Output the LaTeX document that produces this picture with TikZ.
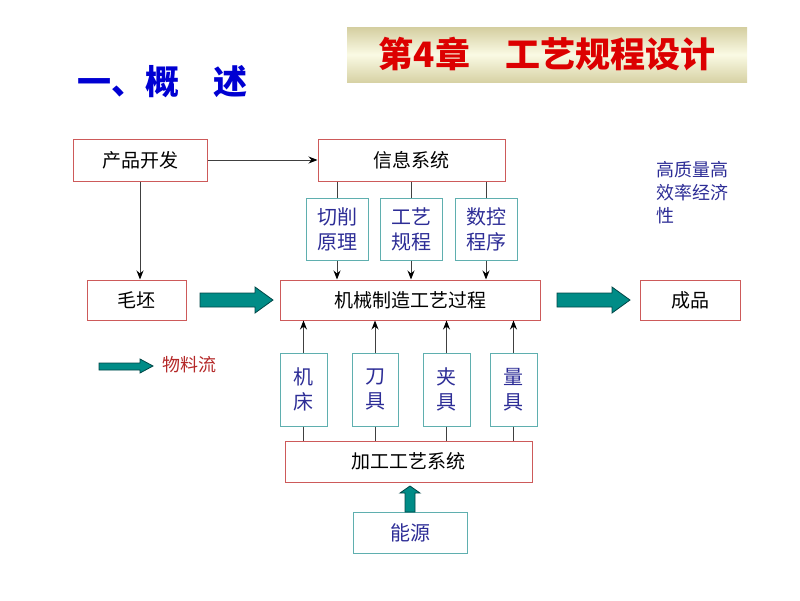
\documentclass[tikz,border=0pt]{standalone}
\usepackage{fontspec}
\setmainfont{Noto Sans CJK SC}
\usetikzlibrary{arrows.meta}
\definecolor{boxred}{RGB}{205,90,90}
\definecolor{boxteal}{RGB}{95,175,175}
\definecolor{txtblue}{RGB}{45,45,150}
\definecolor{flowfill}{RGB}{0,140,135}
\definecolor{flowline}{RGB}{0,70,70}
\tikzset{redbox/.style={draw=boxred, line width=1pt, inner sep=0pt,
           font=\fontsize{19}{22}\selectfont},
         tealbox/.style={draw=boxteal, line width=1pt, inner sep=0pt, text=txtblue,
           align=center, font=\fontsize{20}{25}\selectfont},
         link/.style={draw=black!75, line width=0.9pt},
         feed/.style={link, -{Stealth[length=9pt,width=7pt,black]}},
         matflow/.style={fill=flowfill, draw=flowline, line width=0.8pt}}

\begin{document}
\begin{tikzpicture}[x=1pt,y=-1pt]
\useasboundingbox (0,0) rectangle (800,600);
% heading and banner
\node (banner) [minimum width=400, minimum height=55, inner sep=0pt,
  top color={rgb,255:red,212;green,206;blue,160}, bottom color={rgb,255:red,215;green,210;blue,165},
  middle color={rgb,255:red,250;green,250;blue,228}, text={rgb,255:red,220;green,0;blue,0},
  font=\fontsize{35}{40}\selectfont\bfseries] at (547,54.5) {第4章　工艺规程设计};
\node (head) [anchor=west, inner sep=0pt, text={rgb,255:red,0;green,0;blue,210},
  font=\fontsize{34}{38}\selectfont\bfseries] at (77,82) {一、概　述};
% upper row
\node (pd)   [redbox, minimum width=134, minimum height=42] at (140,160) {产品开发};
\node (info) [redbox, minimum width=187, minimum height=42] at (411.5,160) {信息系统};
\node (cut)  [tealbox, minimum width=62, minimum height=62] at (337,229) {切削\\原理};
\node (proc) [tealbox, minimum width=62, minimum height=62] at (411,229) {工艺\\规程};
\node (nc)   [tealbox, minimum width=62, minimum height=62] at (486,229) {数控\\程序};
\node (goal) [anchor=north west, inner sep=0pt, align=left, text=txtblue,
  font=\fontsize{18}{23}\selectfont] at (656,161) {高质量高\\效率经济\\性};
% middle row
\node (blank) [redbox, minimum width=99, minimum height=40] at (136.5,300) {毛坯};
\node (mfg)   [redbox, minimum width=260, minimum height=40] at (410,300) {机械制造工艺过程};
\node (prod)  [redbox, minimum width=100, minimum height=40] at (690,300) {成品};
\node (legend) [anchor=west, inner sep=0pt, text={rgb,255:red,180;green,40;blue,40},
  font=\fontsize{18}{22}\selectfont] at (162,365) {物料流};
% lower row
\node (mt)     [tealbox, minimum width=47, minimum height=73] at (303.5,389.5) {机\\床};
\node (cutter) [tealbox, minimum width=46, minimum height=73] at (375,389.5) {刀\\具};
\node (fix)    [tealbox, minimum width=47, minimum height=73] at (446.5,389.5) {夹\\具};
\node (gauge)  [tealbox, minimum width=47, minimum height=73] at (513.5,389.5) {量\\具};
\node (msys)   [redbox, minimum width=247, minimum height=41] at (408.5,461.5) {加工工艺系统};
\node (energy) [tealbox, minimum width=114, minimum height=41] at (410,532.5) {能源};
% connectors
\draw[feed] (pd) -- (info);
\draw[feed] (pd.south) -- (pd.south |- blank.north);
\foreach \n in {cut,proc,nc}{
  \draw[link] (\n.north |- info.south) -- (\n.north);
  \draw[feed] (\n.south) -- (\n.south |- mfg.north);
}
\foreach \n in {mt,cutter,fix,gauge}{
  \draw[feed] (\n.north) -- (\n.north |- mfg.south);
  \draw[link] (\n.south) -- (\n.south |- msys.north);
}
% material flow arrows
\draw[matflow] (200,293) -- (255,293) -- (255,287) -- (273,300) -- (255,313) -- (255,307) -- (200,307) -- cycle;
\draw[matflow] (557,293) -- (612,293) -- (612,287) -- (630,300) -- (612,313) -- (612,307) -- (557,307) -- cycle;
\draw[matflow] (99,363) -- (140,363) -- (140,359) -- (153,366) -- (140,373) -- (140,370) -- (99,370) -- cycle;
\draw[matflow] (405,512) -- (405,493) -- (400,493) -- (410,486) -- (420,493) -- (415,493) -- (415,512) -- cycle;
\end{tikzpicture}
\end{document}
